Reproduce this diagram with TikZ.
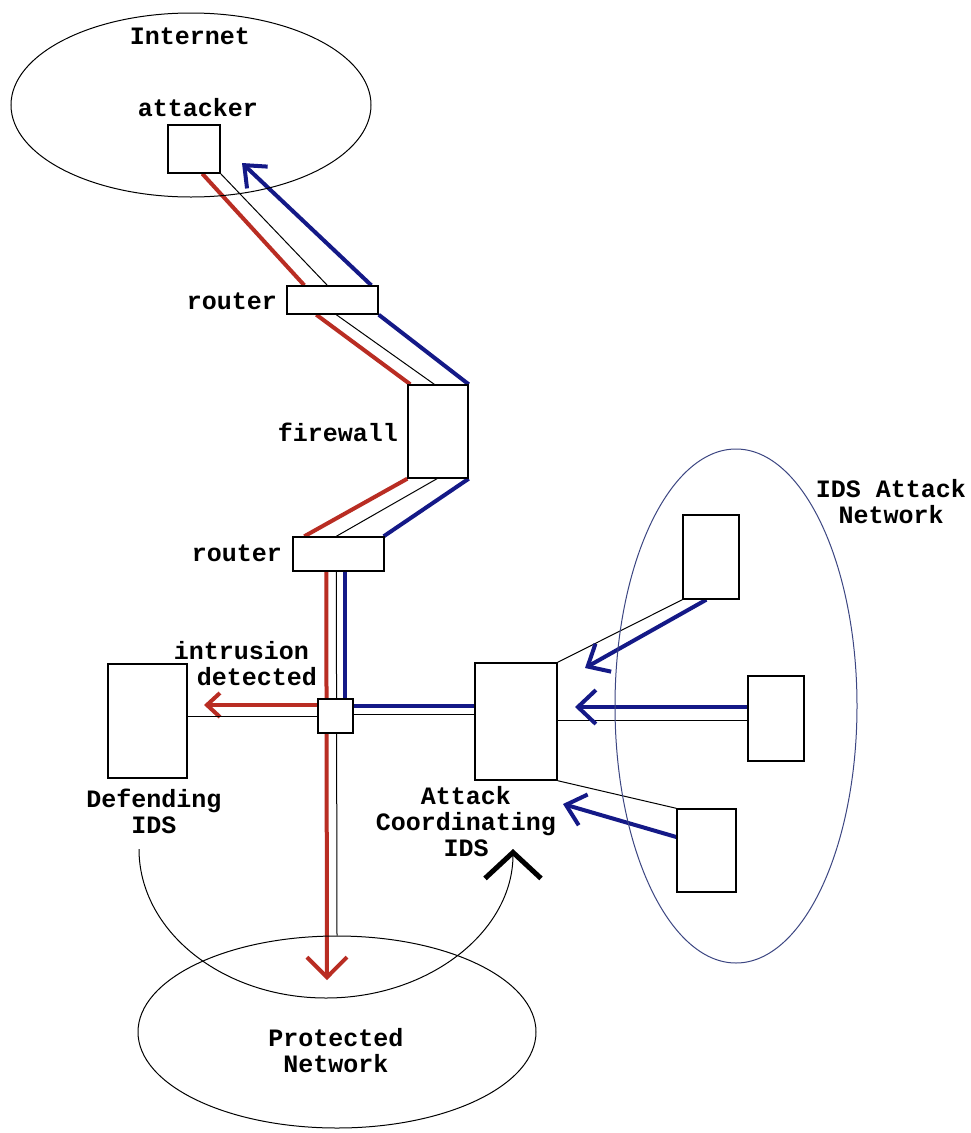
\documentclass[tikz,border=0pt]{standalone}
\usepackage{fontspec}
\newfontfamily\monofam{Liberation Mono}
\usetikzlibrary{arrows.meta,calc,shapes.geometric}
\definecolor{ared}{RGB}{185,45,35}
\definecolor{ablue}{RGB}{20,25,135}
\definecolor{eblue}{RGB}{60,70,130}
\pgfdeclarelayer{background}
\pgfsetlayers{background,main}
\begin{document}
\begin{tikzpicture}[x=1pt,y=1pt,
  box/.style={draw,line width=1.4pt,fill=white,inner sep=0pt},
  lbl/.style={font=\monofam\bfseries\fontsize{25}{26}\selectfont,inner sep=0pt,align=center},
  wire/.style={draw=black,line width=1pt},
  redw/.style={draw=ared,line width=4pt},
  bluew/.style={draw=ablue,line width=4pt},
  net/.style={draw,ellipse,line width=1pt,inner sep=0pt}]

\useasboundingbox (0,0) rectangle (970,-1133);

% network clouds
\node[net,minimum width=360pt,minimum height=184pt] (internet) at (191,-105) {};
\node[net,draw=eblue,minimum width=242pt,minimum height=514pt] (idsnet) at (736,-706) {};
\node[net,minimum width=398pt,minimum height=192pt] (protected) at (337,-1032) {};

% boxes
\node[box,minimum width=52pt,minimum height=48pt] (attacker) at (194,-149) {};
\node[box,minimum width=91pt,minimum height=28pt] (router1) at (332.5,-300) {};
\node[box,minimum width=60pt,minimum height=93pt] (firewall) at (438,-431.5) {};
\node[box,minimum width=91pt,minimum height=34pt] (router2) at (338.5,-554) {};
\node[box,minimum width=35pt,minimum height=34pt] (hub) at (335.5,-716) {};
\node[box,minimum width=79pt,minimum height=114pt] (defending) at (147.5,-721) {};
\node[box,minimum width=82pt,minimum height=117pt] (coord) at (516,-721.5) {};
\node[box,minimum width=56pt,minimum height=84pt] (ids1) at (711,-557) {};
\node[box,minimum width=56pt,minimum height=85pt] (ids2) at (776,-718.5) {};
\node[box,minimum width=59pt,minimum height=83pt] (ids3) at (706.5,-850.5) {};

% free ends of arrows
\coordinate (tipA) at (242,-163);
\coordinate (tipD) at (204,-705);
\coordinate (tipP) at (327,-980);
\coordinate (tip1) at (585,-668);
\coordinate (tip2) at (575,-707);
\coordinate (tip3) at (563,-804);
\coordinate (arcL) at (139,-849);

\begin{pgfonlayer}{background}
\fill[white] (0,0) rectangle (970,-1133);
% attacker -> router1
\draw[redw] ($(attacker.south west)+(35,0)$) -- ($(router1.north west)+(18,0)$);
\draw[wire] (attacker.south east) -- ($(router1.north west)+(41,0)$);
\draw[bluew,-{Straight Barb[length=18pt,width=30pt]}] ($(router1.north west)+(85,0)$) -- (tipA);
% router1 -> firewall
\draw[redw] ($(router1.south west)+(30,0)$) -- ($(firewall.north west)+(3,0)$);
\draw[wire] ($(router1.south west)+(50,0)$) -- ($(firewall.north west)+(27,0)$);
\draw[bluew] (router1.south east) -- (firewall.north east);
% firewall -> router2
\draw[redw] (firewall.south west) -- ($(router2.north west)+(12,0)$);
\draw[wire] ($(firewall.south)+(-1,0)$) -- ($(router2.north west)+(44,0)$);
\draw[bluew] (firewall.south east) -- ($(router2.north east)+(-1,0)$);
% router2 -> hub -> protected network
\draw[redw,-{Straight Barb[length=20pt,width=40pt]}] ($(router2.south west)+(34,0)$) -- (tipP);
\draw[wire] ($(router2.south west)+(44,0)$) -- (protected.north);
\draw[bluew] ($(router2.south west)+(53,0)$) -- ($(hub.north west)+(28,0)$);
% hub -> defending IDS
\draw[redw,-{Straight Barb[length=13pt,width=24pt]}] ($(hub.west)+(0,11)$) -- (tipD);
\draw[wire] ($(defending.east)+(0,5)$) -- (hub.west);
% hub <- coordinating IDS
\draw[bluew] ($(hub.east)+(0,10)$) -- ($(coord.west)+(0,15.5)$);
\draw[wire] ($(hub.east)+(0,2)$) -- ($(coord.west)+(0,7.5)$);
% IDS attack network -> coordinating IDS
\draw[wire] (coord.north east) -- (ids1.south west);
\draw[bluew,-{Straight Barb[length=18pt,width=32pt]}] ($(ids1.south west)+(24,0)$) -- (tip1);
\draw[wire] ($(coord.east)+(0,1.5)$) -- ($(ids2.west)+(0,-1.5)$);
\draw[bluew,-{Straight Barb[length=18pt,width=34pt]}] ($(ids2.west)+(0,11.5)$) -- (tip2);
\draw[wire] (coord.south east) -- (ids3.north west);
\draw[bluew,-{Straight Barb[length=18pt,width=32pt]}] ($(ids3.west)+(0,13.5)$) -- (tip3);
\end{pgfonlayer}

% big curved arrow from Defending IDS to Attack Coordinating IDS
\draw[line width=1pt,-{Straight Barb[length=26pt,width=56pt,line width=5pt]}] (arcL) arc[start angle=180,end angle=360,x radius=187pt,y radius=149pt];

% labels
\node[lbl] (lInternet) at (190,-36) {Internet};
\node[lbl] (lAttacker) at (198,-108) {attacker};
\node[lbl] (lRouter1) at (232,-301) {router};
\node[lbl] (lFirewall) at (338,-432) {firewall};
\node[lbl] (lRouter2) at (237,-553) {router};
\node[lbl,align=left] (lIntrusion) at (245.5,-664) {intrusion\\\hspace*{23pt}detected};
\node[lbl] (lDefending) at (154,-811) {Defending\\IDS};
\node[lbl] (lCoord) at (466,-822) {Attack\\Coordinating\\IDS};
\node[lbl] (lIdsNet) at (891,-502) {IDS Attack\\Network};
\node[lbl] (lProtected) at (336,-1051) {Protected\\Network};
\end{tikzpicture}
\end{document}
